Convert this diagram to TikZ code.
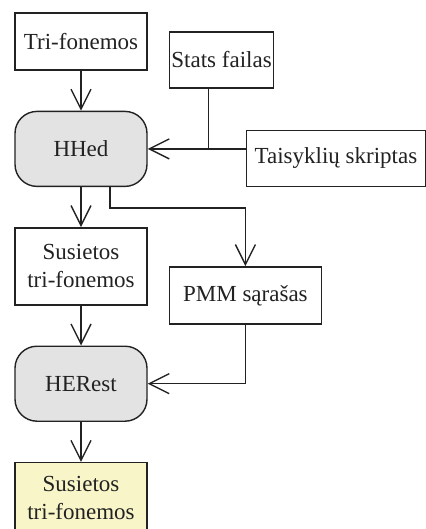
\documentclass[tikz,border=0pt]{standalone}
\usepackage{fontspec}
\setmainfont{Liberation Serif}
\usetikzlibrary{arrows.meta,positioning}
\definecolor{proc}{HTML}{E3E3E3}
\definecolor{result}{HTML}{F8F6C9}
\definecolor{ink}{HTML}{222222}
\tikzset{
  every node/.style={font=\fontsize{23}{28}\selectfont,text=ink},
  box/.style={draw=ink,line width=1.4pt,fill=white,align=center,inner sep=2pt,minimum width=132pt,minimum height=57pt},
  procbox/.style={box,fill=proc,rounded corners=22pt,minimum height=75pt},
  resbox/.style={box,fill=result,minimum height=71pt},
  arrow/.style={-{Straight Barb[length=20pt,width=20pt,line width=1.4pt]},line width=1.4pt,draw=ink,line join=miter},
  line/.style={line width=1.4pt,draw=ink},
}

\begin{document}
\begin{tikzpicture}[node distance=40pt and 21pt]
\useasboundingbox (0,0) rectangle (425pt,-529pt);

\node[box] (tri) at (81pt,-41.5pt) {Tri-fonemos};
\node[procbox,below=of tri] (hhed) {HHed};
\node[box,minimum height=77pt,below=of hhed] (sus) {Susietos\\tri-fonemos};
\node[procbox,below=of sus] (herest) {HERest};
\node[resbox,below=of herest] (out) {Susietos\\tri-fonemos};

\node[box,minimum width=104pt,minimum height=56pt,right=of tri,yshift=-18.5pt] (stats) {Stats failas};
\node[box,minimum width=179pt,minimum height=56pt,right=98pt of hhed.south east,anchor=south west] (rules) {Taisyklių skriptas};
\node[box,minimum width=152pt,right=of sus,yshift=-29pt] (pmm) {PMM sąrašas};

\coordinate (join) at ([xshift=-13pt]stats.south |- hhed.east);

\draw[arrow] (tri) -- (hhed);
\draw[arrow] (rules.west |- hhed.east) -- (hhed.east);
\draw[line] (stats.south -| join) -- (join);
\draw[arrow] (hhed) -- (sus);
\draw[arrow] ([xshift=29pt]hhed.south) -- ++(0,-21pt) -| (pmm.north);
\draw[arrow] (sus) -- (herest);
\draw[arrow] (pmm.south) |- (herest.east);
\draw[arrow] (herest) -- (out);

\end{tikzpicture}
\end{document}
